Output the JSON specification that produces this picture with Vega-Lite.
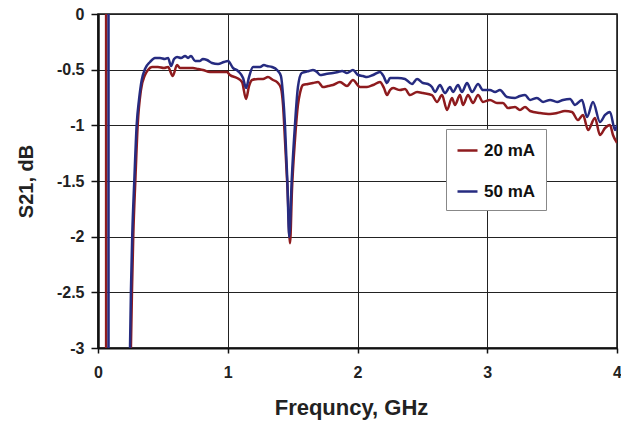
{
  "$schema": "https://vega.github.io/schema/vega-lite/v6.json",
  "width": 519,
  "height": 334,
  "autosize": {"type": "none"},
  "padding": {"left": 98, "top": 14, "right": 4, "bottom": 75},
  "background": "white",
  "config": {
    "view": {"stroke": "#111", "strokeWidth": 1.5},
    "font": "Liberation Sans"
  },
  "datasets": {
    "red": [
      [0.0625,1],[0.0635,-40],[0.254,-2.982],[0.262,-2.479],[0.272,-1.985],[0.288,-1.491],[0.306,-0.997],[0.331,-0.683],[0.362,-0.548],[0.385,-0.503],[0.416,-0.476],[0.462,-0.476],[0.509,-0.485],[0.540,-0.476],[0.576,-0.557],[0.609,-0.458],[0.632,-0.485],[0.686,-0.485],[0.732,-0.485],[0.771,-0.494],[0.809,-0.503],[0.863,-0.521],[0.925,-0.521],[0.994,-0.521],[1.017,-0.548],[1.071,-0.575],[1.110,-0.611],[1.141,-0.763],[1.164,-0.647],[1.187,-0.593],[1.233,-0.584],[1.272,-0.584],[1.310,-0.566],[1.349,-0.593],[1.380,-0.611],[1.410,-0.665],[1.426,-0.817],[1.441,-1.132],[1.461,-1.581],[1.480,-2.06],[1.495,-1.581],[1.518,-1.132],[1.541,-0.817],[1.557,-0.710],[1.580,-0.638],[1.619,-0.629],[1.657,-0.620],[1.696,-0.611],[1.734,-0.656],[1.773,-0.647],[1.811,-0.638],[1.865,-0.611],[1.919,-0.647],[1.965,-0.593],[2.019,-0.656],[2.073,-0.656],[2.120,-0.638],[2.173,-0.611],[2.204,-0.665],[2.227,-0.728],[2.251,-0.683],[2.274,-0.665],[2.328,-0.683],[2.366,-0.674],[2.405,-0.728],[2.459,-0.701],[2.505,-0.710],[2.574,-0.728],[2.613,-0.790],[2.651,-0.728],[2.690,-0.862],[2.728,-0.754],[2.751,-0.817],[2.790,-0.728],[2.813,-0.817],[2.852,-0.728],[2.890,-0.799],[2.929,-0.728],[2.967,-0.790],[3.021,-0.772],[3.075,-0.799],[3.121,-0.799],[3.160,-0.844],[3.214,-0.835],[3.252,-0.862],[3.291,-0.835],[3.330,-0.871],[3.407,-0.889],[3.484,-0.898],[3.538,-0.889],[3.599,-0.871],[3.653,-0.880],[3.699,-0.952],[3.738,-0.907],[3.777,-1.042],[3.830,-0.934],[3.869,-1.087],[3.908,-1.024],[3.946,-0.997],[3.969,-1.087],[4.0,-1.158]
    ],
    "blue": [
      [0.081,1],[0.082,-40],[0.247,-2.98],[0.254,-2.479],[0.264,-1.985],[0.280,-1.491],[0.298,-0.997],[0.316,-0.772],[0.337,-0.593],[0.362,-0.494],[0.401,-0.431],[0.439,-0.395],[0.478,-0.395],[0.516,-0.404],[0.540,-0.395],[0.563,-0.467],[0.586,-0.404],[0.609,-0.386],[0.640,-0.395],[0.671,-0.377],[0.694,-0.395],[0.717,-0.377],[0.748,-0.422],[0.786,-0.422],[0.809,-0.404],[0.840,-0.413],[0.879,-0.440],[0.925,-0.449],[0.971,-0.431],[1.002,-0.422],[1.041,-0.485],[1.079,-0.512],[1.118,-0.575],[1.141,-0.665],[1.164,-0.566],[1.195,-0.476],[1.249,-0.476],[1.279,-0.458],[1.303,-0.467],[1.341,-0.476],[1.380,-0.503],[1.410,-0.557],[1.426,-0.728],[1.441,-0.997],[1.459,-1.491],[1.474,-2.003],[1.493,-1.491],[1.518,-0.997],[1.541,-0.656],[1.570,-0.530],[1.595,-0.521],[1.626,-0.512],[1.657,-0.503],[1.688,-0.521],[1.711,-0.548],[1.757,-0.539],[1.811,-0.530],[1.850,-0.521],[1.881,-0.512],[1.919,-0.530],[1.965,-0.503],[2.004,-0.548],[2.042,-0.557],[2.073,-0.566],[2.120,-0.548],[2.173,-0.521],[2.204,-0.566],[2.227,-0.620],[2.251,-0.575],[2.274,-0.575],[2.312,-0.575],[2.366,-0.584],[2.420,-0.629],[2.459,-0.584],[2.505,-0.620],[2.543,-0.629],[2.574,-0.656],[2.597,-0.701],[2.636,-0.638],[2.674,-0.710],[2.713,-0.656],[2.736,-0.701],[2.775,-0.638],[2.805,-0.701],[2.844,-0.620],[2.883,-0.701],[2.929,-0.629],[2.967,-0.683],[3.021,-0.683],[3.060,-0.701],[3.098,-0.683],[3.152,-0.746],[3.214,-0.754],[3.252,-0.737],[3.291,-0.728],[3.330,-0.772],[3.383,-0.754],[3.430,-0.790],[3.484,-0.772],[3.538,-0.790],[3.584,-0.772],[3.638,-0.763],[3.676,-0.817],[3.730,-0.772],[3.769,-0.925],[3.815,-0.790],[3.869,-0.970],[3.908,-0.907],[3.946,-0.880],[3.985,-1.042],[4.0,-0.997]
    ]
  },
  "layer": [
    {
      "data": {"name": "red"},
      "transform": [
        {"calculate": "datum[0]", "as": "f"},
        {"calculate": "datum[1]", "as": "s"},
        {"calculate": "'20 mA'", "as": "c"}
      ],
      "mark": {"type": "line", "clip": true, "strokeWidth": 2.5, "interpolate": "monotone"},
      "encoding": {
        "x": {"field": "f", "type": "quantitative", "sort": null,
          "scale": {"domain": [0, 4], "nice": false, "zero": false},
          "axis": {
            "title": "Frequncy, GHz", "values": [0, 1, 2, 3, 4], "format": "d",
            "labelFlush": false, "labelBound": false, "labelOverlap": false,
            "grid": true, "gridColor": "#222", "gridWidth": 1, "gridOpacity": 1,
            "domainColor": "#111", "domainWidth": 2,
            "tickColor": "#111", "tickSize": 5, "tickWidth": 1.5,
            "labelFont": "Liberation Sans", "labelFontWeight": "bold", "labelFontSize": 16, "labelColor": "#222", "labelPadding": 11,
            "titleFont": "Liberation Sans", "titleFontWeight": "bold", "titleFontSize": 22, "titleColor": "#222",
            "titleX": 253, "titleY": 66, "titleBaseline": "alphabetic", "titleAlign": "center"
          }
        },
        "y": {"field": "s", "type": "quantitative",
          "scale": {"domain": [-3, 0], "nice": false, "zero": false},
          "axis": {
            "title": "S21, dB", "values": [0, -0.5, -1, -1.5, -2, -2.5, -3],
            "labelExpr": "'' + datum.value", "labelFlush": false,
            "grid": true, "gridColor": "#222", "gridWidth": 1, "gridOpacity": 1,
            "domainColor": "#111", "domainWidth": 2.5,
            "tickColor": "#111", "tickSize": 7, "tickWidth": 1.5,
            "labelFont": "Liberation Sans", "labelFontWeight": "bold", "labelFontSize": 16, "labelColor": "#222", "labelPadding": 7,
            "titleFont": "Liberation Sans", "titleFontWeight": "bold", "titleFontSize": 20, "titleColor": "#222",
            "titleX": -66, "titleY": 167, "titleAngle": -90, "titleBaseline": "alphabetic", "titleAlign": "center"
          }
        },
        "color": {"field": "c", "type": "nominal",
          "scale": {"domain": ["20 mA", "50 mA"], "range": ["#8E1B1E", "#262B80"]},
          "legend": {
            "title": null, "orient": "none", "legendX": 348, "legendY": 115,
            "symbolType": "stroke", "symbolSize": 400, "symbolStrokeWidth": 2.5,
            "labelFont": "Liberation Sans", "labelFontWeight": "bold", "labelFontSize": 17, "labelColor": "#111",
            "labelOffset": 5, "rowPadding": 21, "padding": 10,
            "strokeColor": "#888", "fillColor": "white"
          }
        }
      }
    },
    {
      "data": {"name": "blue"},
      "transform": [
        {"calculate": "datum[0]", "as": "f"},
        {"calculate": "datum[1]", "as": "s"},
        {"calculate": "'50 mA'", "as": "c"}
      ],
      "mark": {"type": "line", "clip": true, "strokeWidth": 2.5, "interpolate": "monotone"},
      "encoding": {
        "x": {"field": "f", "type": "quantitative", "sort": null},
        "y": {"field": "s", "type": "quantitative"},
        "color": {"field": "c", "type": "nominal"}
      }
    }
  ]
}
